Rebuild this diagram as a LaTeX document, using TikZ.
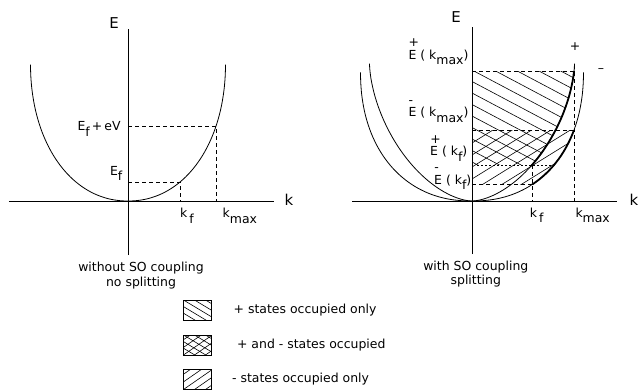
\documentclass[tikz,border=0pt]{standalone}
\usepackage{fontspec}
\setmainfont{DejaVu Sans}
\usetikzlibrary{positioning}

%% lowered subscript and E(k) level labels
\newcommand\lowr[1]{\raisebox{-0.45em}{#1}}
\newcommand\Elev[2]{E\rlap{\hspace{-0.62em}\raisebox{1.0em}{#1}} ( k\lowr{#2})}

%% band curve: half width, height, exponent
\newcommand\band[3]{plot[domain=180.5:359.5, samples=90, smooth]
  ({#1*sign(cos(\x))*abs(cos(\x))^(2/#3)}, {#2*(1-abs(sin(\x))^(2/#3))})}
%% height of a band curve at k
\newcommand\bandy[4]{#2*(1-(1-(#4/#1)^#3)^(1/#3))}

\tikzset{
  axis/.style={line width=0.8bp},
  band/.style={line width=0.8bp},
  bandthick/.style={line width=1.8bp},
  guide/.style={line width=0.7bp, dash pattern=on 4bp off 3bp},
  fineguide/.style={line width=0.7bp, dash pattern=on 2bp off 2bp},
  hatch/.style={line width=0.6bp},
  lab/.style={font=\fontsize{12.5}{14.5}\selectfont, inner sep=0pt},
  axlab/.style={font=\fontsize{15}{17}\selectfont, inner sep=0pt},
  legbox/.style={draw, line width=0.8bp, minimum width=28bp,
                 minimum height=20bp, inner sep=0pt},
  downhatch/.style={path picture={
      \foreach \c in {-2,...,2}
        \draw[hatch] ([xshift=\c*11bp]path picture bounding box.north west) -- ++(40bp,-24bp);}},
  uphatch/.style={path picture={
      \foreach \c in {-2,...,2}
        \draw[hatch] ([xshift=\c*11bp]path picture bounding box.south west) -- ++(36bp,25bp);}},
  crosshatch/.style={path picture={
      \foreach \c in {-2,...,2} {
        \draw[hatch] ([xshift=\c*11bp]path picture bounding box.north west) -- ++(40bp,-24bp);
        \draw[hatch] ([xshift=\c*11bp]path picture bounding box.south west) -- ++(36bp,25bp);}}}
}

\begin{document}
\begin{tikzpicture}[x=10bp, y=10bp]
  \useasboundingbox (-12.8,-19.0) rectangle (51.1,20.1);

  %% levels on the curves
  \pgfmathsetmacro\Ef{\bandy{9.75}{13.8}{2.1}{5.2}}
  \pgfmathsetmacro\Ev{\bandy{9.75}{13.8}{2.1}{8.8}}
  \pgfmathsetmacro\Epmax{\bandy{10.25}{13.8}{1.7}{10.2}}
  \pgfmathsetmacro\Emmax{\bandy{11.15}{13.05}{2.2}{10.2}}
  \pgfmathsetmacro\Epf{\bandy{10.25}{13.8}{1.7}{6.0}}
  \pgfmathsetmacro\Emf{\bandy{11.15}{13.05}{2.2}{6.0}}

  %% -- left panel: no splitting
  \coordinate (O) at (0,0);
  \coordinate (ef) at (5.2,\Ef);
  \coordinate (ev) at (8.8,\Ev);

  \draw[guide] (ef -| O) -- (ef) -- (ef |- O);
  \draw[guide] (ev -| O) -- (ev) -- (ev |- O);
  \draw[axis] (-11.9,0) -- (14.6,0);
  \draw[axis] (0,-5.4) -- (0,17.2);
  \draw[band] \band{9.75}{13.8}{2.1};

  \node[axlab] (E1) at (-1.4,17.8) {E};
  \node[axlab] (k1) at (16.1,0.1) {k};
  \node[lab, anchor=base east] (efv) at (-0.72,7.03) {E\lowr{f}\,+\,eV};
  \node[lab, anchor=base east] (efl) at (-0.55,2.6) {E\lowr{f}};
  \node[lab, anchor=base west] (kf1) at (5.2,-1.65) {k\,\lowr{f}};
  \node[lab, anchor=base west] (km1) at (9.45,-1.65) {k\lowr{max}};
  \node[lab, align=center] (cap1) at (1.3,-7.45) {without SO coupling\\no splitting};

  %% -- right panel: SO splitting
  \begin{scope}[shift={(34.4,0)}]
    \coordinate (O2) at (0,0);
    \coordinate (tp) at (10.2,\Epmax);
    \coordinate (mp) at (10.2,\Emmax);
    \coordinate (fp) at (6.0,\Epf);
    \coordinate (fm) at (6.0,\Emf);

    %% + states
    \begin{scope}
      \clip (0,\Epf) rectangle (12,\Epmax);
      \clip \band{10.25}{13.8}{1.7} -- cycle;
      \foreach \c in {3.9,5.05,...,19.5}
        \draw[hatch] (0,\c) -- ++(12,-6.36);
    \end{scope}
    %% - states
    \begin{scope}
      \clip (0,\Emf) rectangle (12,\Emmax);
      \clip \band{11.15}{13.05}{2.2} -- cycle;
      \foreach \c in {-6.2,-5.0,...,7.3}
        \draw[hatch] (0,\c) -- ++(12,7.44);
    \end{scope}

    \draw[guide] (tp -| O2) -- (tp);
    \draw[guide] ([yshift=6bp]tp) -- (tp |- O2);
    \draw[guide] (mp -| O2) -- (mp);
    \draw[fineguide] ([xshift=5bp]fp -| O2) -- ([xshift=20bp]fp);
    \draw[guide] (fm -| O2) -- (fm);
    \draw[guide] (fp) -- (fp |- O2);

    \draw[axis] (-12.0,0) -- (14.5,0);
    \draw[axis] (0,-5.3) -- (0,17.4);
    \draw[band] \band{10.25}{13.8}{1.7};
    \draw[band] \band{11.15}{13.05}{2.2};
    \begin{scope}
      \clip (0,\Epf) rectangle (12,\Epmax);
      \draw[bandthick] \band{10.25}{13.8}{1.7};
    \end{scope}
    \begin{scope}
      \clip (0,\Emf) rectangle (12,\Emmax);
      \draw[bandthick] \band{11.15}{13.05}{2.2};
    \end{scope}

    \node[axlab] (E2) at (-1.6,18.4) {E};
    \node[axlab] (k2) at (16.2,0.1) {k};
    \node[lab] (pl) at (10.3,15.4) {+};
    \node[lab] (mi) at (12.9,13.0) {\textendash};
    \node[lab, anchor=base east] (epm) at (-0.34,14.17) {\Elev{+}{max}};
    \node[lab, anchor=base east] (emm) at (-0.34,8.43) {\Elev{-}{max}};
    \node[lab, anchor=base east] (epf) at (-0.45,4.5) {\Elev{+}{f}};
    \node[lab, anchor=base east] (emf) at (-0.05,1.7) {\Elev{-}{f}};
    \node[lab, anchor=base west] (kf2) at (5.76,-1.6) {k\,\lowr{f}};
    \node[lab, anchor=base west] (km2) at (10.33,-1.6) {k\lowr{max}};
    \node[lab, align=center] (cap2) at (0.38,-7.3) {with SO coupling\\splitting};
  \end{scope}

  %% -- legend
  \node[legbox, downhatch]  (lg1) at (6.95,-10.9) {};
  \node[legbox, crosshatch] (lg2) at (6.95,-14.4) {};
  \node[legbox, uphatch]    (lg3) at (6.95,-17.85) {};
  \node[lab, right=21.6bp of lg1] (lt1) {+ states occupied only};
  \node[lab, right=25bp of lg2]   (lt2) {+ and - states occupied};
  \node[lab, right=20bp of lg3]   (lt3) {- states occupied only};

\end{tikzpicture}
\end{document}
